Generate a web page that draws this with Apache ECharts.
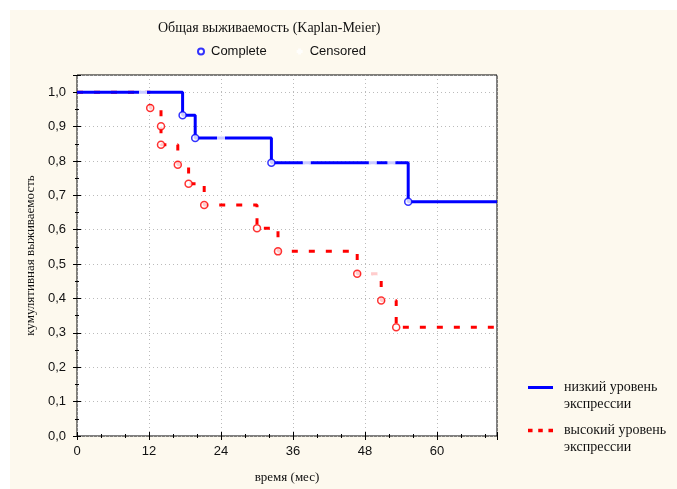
<!DOCTYPE html>
<html><head><meta charset="utf-8">
<script src="https://cdn.jsdelivr.net/npm/echarts@6/dist/echarts.min.js"></script>
<style>html,body{margin:0;padding:0;background:#fff}#c{width:677px;height:489px}</style>
</head><body><div id="c"></div>
<script>
const chartTitle = 'Общая выживаемость (Kaplan-Meier)';
const xName = 'время (мес)';
const yName = 'кумулятивная выживаемость';
const groupNames = ['низкий уровень\nэкспрессии', 'высокий уровень\nэкспрессии'];
const markerNames = ['Complete', 'Censored'];

const lowTimes = [17.6, 19.7, 32.4, 55.2];
const lowSurv = [0.933, 0.867, 0.795, 0.681];
const lowCensTimes = [11.0, 24.0, 38.3, 49.3, 52.4];
const lowCensSurv = [1.0, 0.867, 0.795, 0.795, 0.795];

const highTimes = [12.2, 14.0, 14.0, 16.8, 18.6, 21.2, 30.0, 33.5, 46.7, 50.7, 53.2];
const highSurv = [0.954, 0.901, 0.847, 0.789, 0.734, 0.672, 0.604, 0.537, 0.472, 0.394, 0.316];
const highCensTimes = [49.7];
const highCensSurv = [0.472];

const followUpEnd = 70;

const BLUE = '#0000ff', RED = '#ff0000';
const SERIF = '"Liberation Serif", "Times New Roman", serif';
const SANS = '"Liberation Sans", Arial, sans-serif';

function stepData(times, surv) {
  const d = [[0, 1]];
  times.forEach((t, i) => d.push([t, surv[i]]));
  d.push([followUpEnd, surv[surv.length - 1]]);
  return d;
}
function pts(times, surv) { return times.map((t, i) => [t, surv[i]]); }

const plusPath = 'path://M2,0H6V8H2Z M0,2H8V6H0Z';
const solidIcon = 'path://M0,0H25V3H0Z';
const dashIcon = 'path://M0,0H4V3H0Z M9,0H13V3H9Z M18,0H22V3H18Z';

const chart = echarts.init(document.getElementById('c'), null, {renderer: 'canvas'});
const tickCommon = {inside: true, length: 4, lineStyle: {color: '#000', width: 1}};
const minorCommon = {show: true, length: 2, lineStyle: {color: '#000', width: 1}};
const groupText = {fontFamily: SERIF, fontSize: 14, lineHeight: 17, color: '#111', padding: [0, 0, 0, 6]};
const groupFormatter = n => ' \n' + n;

chart.setOption({
  animation: false,
  backgroundColor: '#fff',
  graphic: [{type: 'rect', z: -100, silent: true, shape: {x: 10, y: 10, width: 667, height: 479}, style: {fill: '#fdf9ee'}}],
  title: {text: chartTitle, left: 153, top: 16, textStyle: {fontFamily: SERIF, fontSize: 14, fontWeight: 'normal', color: '#111'}},
  legend: [
    {data: markerNames, left: 192, top: 40, itemWidth: 6, itemHeight: 6, itemGap: 30,
     textStyle: {fontFamily: SANS, fontSize: 13, color: '#111', padding: [0, 0, 0, 2]}},
    {data: [{name: groupNames[0], icon: solidIcon}], left: 523, top: 357, orient: 'vertical', itemWidth: 25, itemHeight: 14,
     itemStyle: {borderWidth: 0}, textStyle: groupText, formatter: groupFormatter},
    {data: [{name: groupNames[1], icon: dashIcon}], left: 523, top: 400, orient: 'vertical', itemWidth: 25, itemHeight: 14,
     itemStyle: {borderWidth: 0}, textStyle: groupText, formatter: groupFormatter}
  ],
  grid: {left: 77, top: 75, right: 180, bottom: 52, show: true, backgroundColor: '#fff', borderColor: '#000', borderWidth: 1},
  xAxis: [
    {type: 'value', min: 0, max: followUpEnd, interval: 12, position: 'bottom',
     axisLine: {show: false}, axisTick: tickCommon, minorTick: Object.assign({splitNumber: 3}, minorCommon),
     splitLine: {show: true, lineStyle: {color: '#bbb', type: [1, 3]}},
     axisLabel: {showMaxLabel: false, fontFamily: SANS, fontSize: 13, color: '#111', margin: 9},
     name: xName, nameLocation: 'middle', nameGap: 35, nameTextStyle: {fontFamily: SERIF, fontSize: 13, color: '#111'}},
    {type: 'value', min: 0, max: followUpEnd, interval: 12, position: 'top',
     axisLine: {show: false}, axisTick: tickCommon, minorTick: Object.assign({splitNumber: 3}, minorCommon),
     splitLine: {show: false}, axisLabel: {show: false}}
  ],
  yAxis: [
    {type: 'value', min: 0, max: 1.05, interval: 0.1, position: 'left',
     axisLine: {show: false}, axisTick: tickCommon, minorTick: Object.assign({splitNumber: 2}, minorCommon),
     splitLine: {show: true, lineStyle: {color: '#bbb', type: [1, 3]}},
     axisLabel: {showMaxLabel: false, fontFamily: SANS, fontSize: 13, color: '#111', margin: 11,
       formatter: v => v.toFixed(1).replace('.', ',')},
     name: yName, nameLocation: 'middle', nameGap: 40, nameTextStyle: {fontFamily: SERIF, fontSize: 13, color: '#111'}},
    {type: 'value', min: 0, max: 1.05, interval: 0.1, position: 'right',
     axisLine: {show: false}, axisTick: tickCommon, minorTick: Object.assign({splitNumber: 2}, minorCommon),
     splitLine: {show: false}, axisLabel: {show: false}}
  ],
  series: [
    {name: groupNames[1], type: 'line', step: 'end', data: stepData(highTimes, highSurv), symbol: 'none', z: 2,
     itemStyle: {color: RED}, lineStyle: {color: RED, width: 3, type: [6, 11]}},
    {name: groupNames[0], type: 'line', step: 'end', data: stepData(lowTimes, lowSurv), symbol: 'none', z: 3,
     itemStyle: {color: BLUE}, lineStyle: {color: BLUE, width: 3, type: 'solid'}},
    {name: markerNames[1], type: 'scatter', data: pts(highCensTimes, highCensSurv), symbol: plusPath, symbolSize: 8, z: 4,
     itemStyle: {color: '#fff', borderWidth: 0}},
    {name: markerNames[1], type: 'scatter', data: pts(lowCensTimes, lowCensSurv), symbol: plusPath, symbolSize: 8, z: 4,
     itemStyle: {color: '#fff', borderWidth: 0}},
    {name: markerNames[0], type: 'scatter', data: pts(lowTimes, lowSurv), symbol: 'circle', symbolSize: 7, z: 5,
     itemStyle: {color: '#fff', borderColor: BLUE, borderWidth: 1.5}},
    {name: markerNames[0], type: 'scatter', data: pts(highTimes, highSurv), symbol: 'circle', symbolSize: 7, z: 5,
     itemStyle: {color: '#fff', borderColor: RED, borderWidth: 1.5}}
  ]
});
</script></body></html>
